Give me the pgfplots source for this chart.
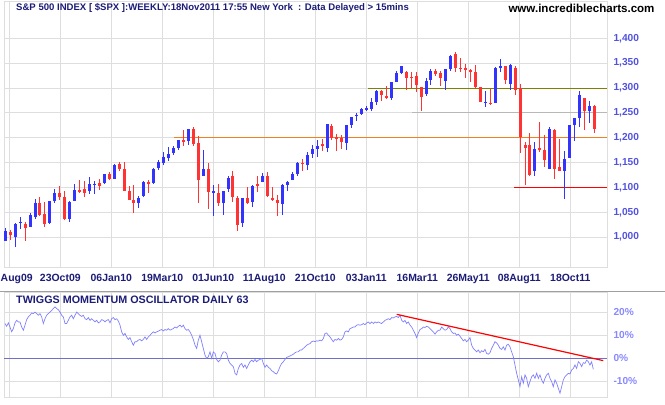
\documentclass[border=0pt]{standalone}
\usepackage{pgfplots}
\pgfplotsset{compat=1.18}
\usepackage{pgfplotstable}
\usepackage{fontspec}
\setmainfont{Liberation Sans}

\definecolor{upc}{HTML}{3333FF}
\definecolor{dnc}{HTML}{FF3333}
\definecolor{gridc}{HTML}{DEDEDE}
\definecolor{navy}{HTML}{1C1C78}
\definecolor{lblue}{HTML}{5252E0}
\definecolor{pblue}{HTML}{8888FF}
\definecolor{oscc}{HTML}{8080FF}
\definecolor{zeroc}{HTML}{7070C8}
\definecolor{orangec}{HTML}{F08020}
\definecolor{olivec}{HTML}{808000}
\definecolor{grayc}{HTML}{B8B8B8}
\definecolor{sepc}{HTML}{A0A0A0}

\pgfplotstableread{
i o h l c
1 993 1018 993 1013
2 1011 1015 995 1005
3 1001 1029 981 1027
4 1029 1041 1017 1031
5 1027 1031 993 1019
6 1021 1049 1021 1044
7 1041 1077 1037 1069
8 1069 1081 1043 1045
9 1047 1071 1021 1027
10 1029 1073 1027 1073
11 1073 1097 1069 1089
12 1089 1103 1075 1081
13 1081 1093 1035 1037
14 1037 1072 1031 1070
15 1073 1107 1073 1095
16 1095 1115 1089 1091
17 1097 1113 1081 1089
18 1093 1121 1087 1107
19 1105 1113 1087 1107
20 1109 1117 1095 1103
21 1108 1128 1106 1127
22 1128 1132 1115 1117
23 1117 1147 1117 1145
24 1147 1152 1133 1137
25 1137 1151 1092 1093
26 1093 1103 1074 1075
27 1075 1105 1048 1068
28 1068 1082 1058 1078
29 1082 1113 1081 1111
30 1111 1114 1088 1106
31 1108 1140 1107 1138
32 1140 1155 1136 1151
33 1150 1171 1146 1161
34 1160 1181 1154 1168
35 1169 1183 1165 1179
36 1180 1195 1176 1195
37 1195 1215 1184 1192
38 1194 1217 1186 1217
39 1217 1221 1183 1187
40 1189 1204 1068 1114
41 1123 1176 1123 1137
42 1137 1150 1057 1090
43 1088 1105 1043 1092
44 1088 1107 1062 1068
45 1068 1093 1044 1093
46 1097 1123 1091 1119
47 1123 1133 1070 1080
48 1079 1082 1013 1025
49 1029 1079 1021 1079
50 1079 1101 1066 1068
51 1070 1105 1060 1103
52 1106 1123 1090 1105
53 1111 1129 1111 1123
54 1123 1131 1080 1082
55 1079 1101 1073 1074
56 1075 1084 1042 1068
57 1066 1107 1044 1105
58 1105 1113 1093 1111
59 1115 1131 1115 1127
60 1127 1151 1124 1149
61 1149 1157 1134 1148
62 1146 1172 1135 1165
63 1167 1186 1159 1177
64 1178 1196 1162 1184
65 1186 1197 1174 1185
66 1179 1228 1172 1228
67 1224 1228 1196 1200
68 1200 1208 1174 1199
69 1200 1206 1178 1192
70 1190 1226 1176 1226
71 1226 1242 1220 1242
72 1244 1249 1234 1246
73 1248 1260 1246 1258
74 1258 1264 1253 1259
75 1258 1279 1254 1271
76 1271 1297 1265 1293
77 1294 1297 1274 1285
78 1284 1304 1277 1279
79 1279 1312 1276 1312
80 1313 1334 1313 1330
81 1331 1345 1328 1344
82 1332 1334 1297 1321
83 1322 1332 1301 1321
84 1324 1332 1292 1306
85 1302 1302 1253 1281
86 1288 1320 1284 1314
87 1317 1339 1307 1334
88 1334 1339 1324 1329
89 1330 1334 1304 1321
90 1315 1338 1297 1338
91 1339 1366 1334 1364
92 1368 1372 1332 1341
93 1340 1361 1333 1339
94 1339 1349 1320 1338
95 1336 1338 1313 1334
96 1333 1346 1301 1303
97 1302 1302 1271 1272
98 1271 1294 1261 1272
99 1270 1299 1265 1269
100 1270 1343 1269 1341
101 1342 1358 1332 1344
102 1344 1345 1309 1317
103 1308 1348 1297 1346
104 1341 1344 1285 1295
105 1301 1308 1170 1201
106 1186 1191 1104 1180
107 1186 1210 1123 1125
108 1134 1191 1124 1178
109 1180 1232 1171 1175
110 1175 1206 1141 1156
111 1137 1222 1137 1218
112 1216 1218 1116 1137
113 1141 1198 1134 1134
114 1134 1173 1077 1157
115 1160 1226 1160 1226
116 1226 1240 1194 1240
117 1240 1294 1222 1286
118 1280 1280 1216 1254
119 1254 1273 1229 1264
120 1264 1266 1210 1218
}\candles

\pgfplotstableread[row sep=\\]{
v\\
15.1\\ 13.9\\ 15.4\\ 13.6\\ 11.5\\ 12.9\\ 15.4\\ 16.5\\ 15.8\\ 15.8\\
13.6\\ 12.2\\ 14.4\\ 16.8\\ 18.0\\ 18.7\\ 19.7\\ 19.4\\ 20.1\\ 19.4\\
18.7\\ 19.4\\ 18.0\\ 15.1\\ 17.2\\ 18.7\\ 19.4\\ 20.1\\ 20.8\\ 21.6\\
22.3\\ 21.6\\ 21.1\\ 20.1\\ 18.7\\ 18.0\\ 15.1\\ 15.1\\ 16.5\\ 18.0\\
18.7\\ 17.2\\ 18.7\\ 20.1\\ 19.4\\ 18.7\\ 18.2\\ 18.7\\ 17.2\\ 16.8\\
17.7\\ 16.5\\ 17.2\\ 16.5\\ 15.8\\ 16.5\\ 15.4\\ 15.8\\ 16.8\\ 16.5\\
15.8\\ 16.5\\ 16.8\\ 15.4\\ 17.2\\ 17.7\\ 16.8\\ 17.2\\ 16.2\\ 14.4\\
11.5\\ 10.0\\ 10.8\\ 9.3\\ 8.2\\ 9.0\\ 7.2\\ 5.7\\ 7.2\\ 7.2\\
7.9\\ 8.2\\ 7.6\\ 8.2\\ 9.3\\ 8.2\\ 9.3\\ 10.0\\ 10.8\\ 11.5\\
11.0\\ 11.5\\ 11.8\\ 12.2\\ 12.5\\ 11.9\\ 12.5\\ 12.2\\ 12.9\\ 12.2\\
12.6\\ 12.9\\ 13.6\\ 13.2\\ 13.9\\ 14.4\\ 13.6\\ 14.4\\ 12.9\\ 12.2\\
12.5\\ 11.5\\ 10.0\\ 8.2\\ 5.7\\ 4.3\\ 7.9\\ 10.0\\ 7.2\\ 4.3\\
1.4\\ 0.0\\ 0.7\\ 2.8\\ 0.0\\ 2.8\\ 2.1\\ -0.5\\ -1.5\\ -0.8\\
1.4\\ 2.8\\ 2.8\\ 2.1\\ -0.8\\ -2.2\\ -2.9\\ -3.6\\ -6.5\\ -7.2\\
-4.4\\ -2.9\\ -2.2\\ -3.9\\ -2.9\\ -4.4\\ -2.9\\ -1.5\\ -0.8\\ -1.5\\
-0.5\\ -1.5\\ -0.8\\ -0.5\\ 0.0\\ -2.2\\ -3.9\\ -2.9\\ -3.9\\ -4.4\\
-5.4\\ -5.8\\ -6.5\\ -6.8\\ -5.4\\ -3.6\\ -2.2\\ -1.5\\ -0.5\\ 0.4\\
0.7\\ 1.0\\ 1.4\\ 1.8\\ 2.4\\ 2.8\\ 2.8\\ 3.6\\ 3.6\\ 4.3\\
5.0\\ 5.7\\ 6.1\\ 6.4\\ 7.2\\ 7.5\\ 7.2\\ 7.6\\ 7.5\\ 7.9\\
7.6\\ 8.6\\ 10.8\\ 11.0\\ 10.0\\ 9.3\\
8.2\\ 7.2\\ 8.2\\ 7.9\\ 8.6\\ 7.9\\ 8.2\\ 9.3\\ 11.5\\ 11.9\\
11.5\\ 12.9\\ 13.2\\ 13.6\\ 13.6\\ 14.4\\ 14.6\\ 14.4\\ 14.6\\ 15.1\\
14.6\\ 15.4\\ 15.8\\ 15.1\\ 15.8\\ 15.1\\ 15.8\\ 15.4\\ 15.8\\ 15.4\\
15.1\\ 15.8\\ 16.5\\ 16.8\\ 17.2\\ 16.8\\ 17.7\\ 17.5\\ 18.0\\ 18.2\\
17.7\\ 18.7\\ 16.5\\ 15.8\\ 16.5\\ 15.1\\ 15.8\\ 14.4\\ 13.6\\ 12.2\\
10.8\\ 9.0\\ 11.0\\ 12.5\\ 12.9\\ 13.6\\ 13.4\\ 13.9\\ 13.6\\ 12.9\\
12.2\\ 11.5\\ 10.5\\ 11.5\\ 12.2\\ 12.2\\ 13.6\\ 12.9\\ 12.2\\ 12.5\\
13.6\\ 12.9\\ 11.5\\ 10.8\\ 11.0\\ 10.0\\ 10.5\\ 9.6\\ 8.6\\ 7.6\\
8.2\\ 7.2\\ 7.9\\ 9.0\\ 5.7\\ 4.3\\ 3.6\\ 2.8\\ 3.6\\ 2.4\\
3.3\\ 2.8\\ 3.9\\ 2.1\\ 1.8\\ 2.4\\ 4.3\\ 5.7\\ 7.2\\ 6.7\\
5.7\\ 4.3\\ 3.9\\ 5.0\\ 3.6\\ 5.7\\ 6.1\\ 5.0\\ 2.8\\ 0.7\\
-2.9\\ -6.5\\ -9.4\\ -12.3\\ -8.0\\ -10.8\\ -7.2\\ -8.7\\ -12.3\\ -10.1\\
-8.0\\ -7.2\\ -8.7\\ -6.5\\ -8.7\\ -7.2\\ -9.4\\ -10.8\\ -8.7\\ -7.2\\
-6.5\\ -8.7\\ -10.1\\ -12.3\\ -9.4\\ -10.8\\ -13.0\\ -15.2\\ -12.3\\ -9.4\\
-8.0\\ -7.2\\ -6.5\\ -6.8\\ -5.1\\ -4.4\\ -2.9\\ -4.4\\ -1.5\\ -2.2\\
-3.6\\ -1.9\\ -2.2\\ -0.8\\ -1.5\\ -2.9\\ -1.5\\ -4.8\\
}\osc

\pgfplotsset{
  panel/.style={
    scale only axis, anchor=south west, width=603bp,
    xmin=0.737, xmax=122.56,
    axis line style={draw=gridc, line width=0.8bp},
    tick style={draw=none},
    grid=major, major grid style={draw=gridc, line width=0.8bp},
    xtick={1.808,12.111,22.414,32.717,43.02,53.323,63.626,73.929,84.232,94.535,104.838,115.141},
    yticklabel pos=right,
    /pgf/number format/assume math mode=true,
    clip=true,
  },
  candle/.style={forget plot, draw=none, mark=none,
    error bars/y dir=both, error bars/y explicit, error bars/error mark=none},
}

\begin{document}
\begin{tikzpicture}
\path[use as bounding box] (0,0) rectangle (665bp,405bp);

% ---------------- price panel ----------------
\begin{axis}[panel, at={(4bp,138bp)}, height=266bp,
  ymin=940, ymax=1475,
  ytick={1000,1050,...,1400},
  /pgf/number format/1000 sep={,},
  xticklabels={{\rlap{\hspace{-8.6bp}Aug09}},23Oct09,06Jan10,19Mar10,01Jun10,11Aug10,21Oct10,03Jan11,16Mar11,26May11,08Aug11,18Oct11},
  xticklabel style={font=\fontsize{10.5}{12}\selectfont\bfseries, text=navy, yshift=-3.5bp},
  yticklabel style={font=\fontsize{10.2}{12}\selectfont\bfseries, text=lblue, xshift=3bp},
]
\addplot[orangec, line width=1bp, forget plot] coordinates {(35.08,1200) (122.56,1200)};
\addplot[olivec, line width=1bp, forget plot] coordinates {(74.27,1300) (122.56,1300)};
\addplot[grayc, line width=1bp, forget plot] coordinates {(83.16,1250) (122.56,1250)};
\addplot[red, line width=1bp, forget plot] coordinates {(103.77,1100) (122.56,1100)};

% wicks
\addplot[candle, restrict expr to domain={\thisrow{c}-\thisrow{o}}{0.001:100000},
  error bars/error bar style={line width=1bp, draw=upc, solid}]
  table[x=i, y expr={(\thisrow{h}+\thisrow{l})/2}, y error expr={(\thisrow{h}-\thisrow{l})/2}] {\candles};
\addplot[candle, restrict expr to domain={\thisrow{c}-\thisrow{o}}{-100000:0},
  error bars/error bar style={line width=1bp, draw=dnc, solid}]
  table[x=i, y expr={(\thisrow{h}+\thisrow{l})/2}, y error expr={(\thisrow{h}-\thisrow{l})/2}] {\candles};
% bodies
\addplot[candle, restrict expr to domain={\thisrow{c}-\thisrow{o}}{0.001:100000},
  error bars/error bar style={line width=3bp, draw=upc, solid}]
  table[x=i, y expr={(\thisrow{o}+\thisrow{c})/2}, y error expr={max(abs(\thisrow{c}-\thisrow{o})/2,1.2)}] {\candles};
\addplot[candle, restrict expr to domain={\thisrow{c}-\thisrow{o}}{-100000:0},
  error bars/error bar style={line width=3bp, draw=dnc, solid}]
  table[x=i, y expr={(\thisrow{o}+\thisrow{c})/2}, y error expr={max(abs(\thisrow{c}-\thisrow{o})/2,1.2)}] {\candles};
\end{axis}

% ---------------- oscillator panel ----------------
\begin{axis}[panel, at={(4bp,8bp)}, height=105bp,
  ymin=-16.8, ymax=28.8,
  ytick={-10,0,10,20},
  yticklabels={-10\%,0\%,10\%,20\%},
  xticklabels={},
  yticklabel style={font=\fontsize{10.2}{12}\selectfont\bfseries, text=pblue, xshift=3bp},
]
\addplot[zeroc, line width=1bp, forget plot] coordinates {(0.737,0) (122.56,0)};
\addplot[oscc, line width=0.7bp, forget plot] table[x expr={0.9394+0.3367*\coordindex}, y=v] {\osc};
\addplot[red, line width=1.2bp, forget plot] coordinates {(80.07,19.1) (121.8,-1.0)};
\end{axis}

\draw[sepc, line width=1bp] (0,113bp) -- (665bp,113bp);

\node[anchor=west, inner sep=0pt, font=\fontsize{9.6}{11}\selectfont\bfseries, text=navy] at (16bp,396.7bp)
  {S\&P 500 INDEX [ \$SPX ]:WEEKLY:18Nov2011 17:55 New York~~: Data Delayed > 15mins};
\node[anchor=center, inner sep=0pt, font=\fontsize{11.6}{13}\selectfont\bfseries, text=black] at (581.5bp,396.5bp)
  {www.incrediblecharts.com};
\node[anchor=west, inner sep=0pt, font=\fontsize{10.8}{12}\selectfont\bfseries, text=navy] at (16bp,105.5bp)
  {TWIGGS MOMENTUM OSCILLATOR DAILY 63};
\end{tikzpicture}
\end{document}
